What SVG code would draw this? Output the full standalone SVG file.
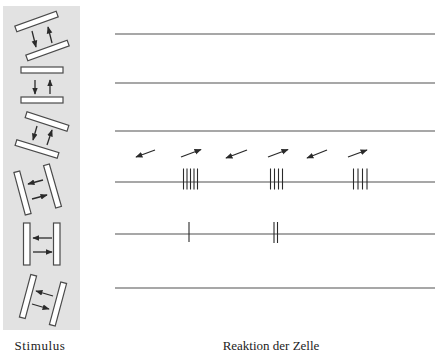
<svg xmlns="http://www.w3.org/2000/svg" width="439" height="355" viewBox="0 0 439 355">
  <style>
    .panel { fill: #e2e2e2; }
    .bar { fill: #ffffff; stroke: #4a4a4a; stroke-width: 1.2; }
    .arr { stroke: #2a2a2a; stroke-width: 1.3; fill: none; marker-end: url(#head); }
    .trace { stroke: #8a8a8a; stroke-width: 1.6; fill: none; }
    .spike { stroke: #2a2a2a; stroke-width: 1.1; }
    .label { font-family: "Liberation Serif", "Times New Roman", serif; font-size: 13px; fill: #222; text-anchor: middle; }
  </style>
  <defs>
    <marker id="head" viewBox="0 0 10 10" refX="9" refY="5" markerWidth="5.5" markerHeight="5.5" orient="auto" markerUnits="strokeWidth">
      <path d="M0,1 L10,5 L0,9 z" fill="#2a2a2a"/>
    </marker>
  </defs>

  <!-- stimulus panel -->
  <rect class="panel" x="3" y="6" width="77" height="324"/>

  <!-- pair 1: bars tilted up to the right, motion up/down -->
  <g id="stim1">
    <rect class="bar" x="-22" y="-3" width="44" height="6" transform="translate(36.5 21.5) rotate(-20)"/>
    <rect class="bar" x="-22" y="-3" width="44" height="6" transform="translate(47.5 50.5) rotate(-20)"/>
  </g>
  <!-- pair 2: horizontal bars -->
  <g id="stim2">
    <rect class="bar" x="21" y="67" width="42" height="6"/>
    <rect class="bar" x="21" y="97" width="42" height="6"/>
  </g>
  <!-- pair 3: bars tilted down to the right -->
  <g id="stim3">
    <rect class="bar" x="-22" y="-3" width="44" height="6" transform="translate(47 121.5) rotate(18)"/>
    <rect class="bar" x="-22" y="-3" width="44" height="6" transform="translate(37 149) rotate(17)"/>
  </g>
  <!-- pair 4: near-vertical bars leaning left -->
  <g id="stim4">
    <rect class="bar" x="-3" y="-22" width="6" height="44" transform="translate(22.5 193) rotate(-15)"/>
    <rect class="bar" x="-3" y="-22" width="6" height="44" transform="translate(52.5 186) rotate(-16)"/>
  </g>
  <!-- pair 5: vertical bars -->
  <g id="stim5">
    <rect class="bar" x="23.5" y="223" width="6.5" height="42"/>
    <rect class="bar" x="53.5" y="223" width="6.5" height="42"/>
  </g>
  <!-- pair 6: near-vertical bars leaning right -->
  <g id="stim6">
    <rect class="bar" x="-3" y="-22" width="6" height="44" transform="translate(28 296.5) rotate(15)"/>
    <rect class="bar" x="-3" y="-22" width="6" height="44" transform="translate(58 304) rotate(15)"/>
  </g>

  <!-- movement arrows and response traces -->
  <g id="connectors">
    <line class="arr" x1="32" y1="31" x2="36" y2="47"/>
    <line class="arr" x1="52" y1="43" x2="48" y2="27"/>

    <line class="arr" x1="35" y1="80" x2="35" y2="94"/>
    <line class="arr" x1="50" y1="94" x2="50" y2="80"/>

    <line class="arr" x1="37" y1="126" x2="33" y2="140"/>
    <line class="arr" x1="47" y1="145" x2="52" y2="130"/>

    <line class="arr" x1="43" y1="180" x2="28" y2="184"/>
    <line class="arr" x1="32" y1="199" x2="47" y2="195"/>

    <line class="arr" x1="52" y1="238" x2="33" y2="238"/>
    <line class="arr" x1="33" y1="252" x2="52" y2="252"/>

    <line class="arr" x1="53" y1="296" x2="36" y2="291"/>
    <line class="arr" x1="32" y1="304" x2="49" y2="309"/>

    <!-- stimulus direction above trace 4 -->
    <line class="arr" x1="155" y1="150" x2="136" y2="157"/>
    <line class="arr" x1="181" y1="157" x2="201" y2="149.5"/>
    <line class="arr" x1="247" y1="150" x2="226" y2="158"/>
    <line class="arr" x1="268" y1="157" x2="288" y2="149.5"/>
    <line class="arr" x1="327" y1="150" x2="307" y2="158"/>
    <line class="arr" x1="348" y1="157" x2="367" y2="150"/>

    <!-- response traces -->
    <line class="trace" x1="115" y1="34" x2="435" y2="34"/>
    <line class="trace" x1="115" y1="83" x2="435" y2="83"/>
    <line class="trace" x1="115" y1="131" x2="435" y2="131"/>
    <line class="trace" x1="115" y1="182" x2="435" y2="182"/>
    <line class="trace" x1="115" y1="234" x2="435" y2="234"/>
    <line class="trace" x1="115" y1="288" x2="435" y2="288"/>

    <!-- spikes on trace 4 -->
    <g class="spike">
      <line x1="183.5" y1="168.5" x2="183.5" y2="189.5"/>
      <line x1="187" y1="168.5" x2="187" y2="189.5"/>
      <line x1="190.5" y1="168.5" x2="190.5" y2="189.5"/>
      <line x1="194" y1="168.5" x2="194" y2="189.5"/>
      <line x1="197.5" y1="168.5" x2="197.5" y2="189.5"/>

      <line x1="270.5" y1="168.5" x2="270.5" y2="189.5"/>
      <line x1="274.5" y1="168.5" x2="274.5" y2="189.5"/>
      <line x1="278.5" y1="168.5" x2="278.5" y2="189.5"/>
      <line x1="282.5" y1="168.5" x2="282.5" y2="189.5"/>

      <line x1="353.5" y1="168.5" x2="353.5" y2="189.5"/>
      <line x1="358" y1="168.5" x2="358" y2="189.5"/>
      <line x1="362.5" y1="168.5" x2="362.5" y2="189.5"/>
      <line x1="367" y1="168.5" x2="367" y2="189.5"/>

      <!-- spikes on trace 5 -->
      <line x1="189" y1="222" x2="189" y2="242"/>
      <line x1="274" y1="222" x2="274" y2="243"/>
      <line x1="277.5" y1="222" x2="277.5" y2="243"/>
    </g>
  </g>

  <text class="label" x="40" y="350" letter-spacing="0.6">Stimulus</text>
  <text class="label" x="271" y="350">Reaktion der Zelle</text>
</svg>
